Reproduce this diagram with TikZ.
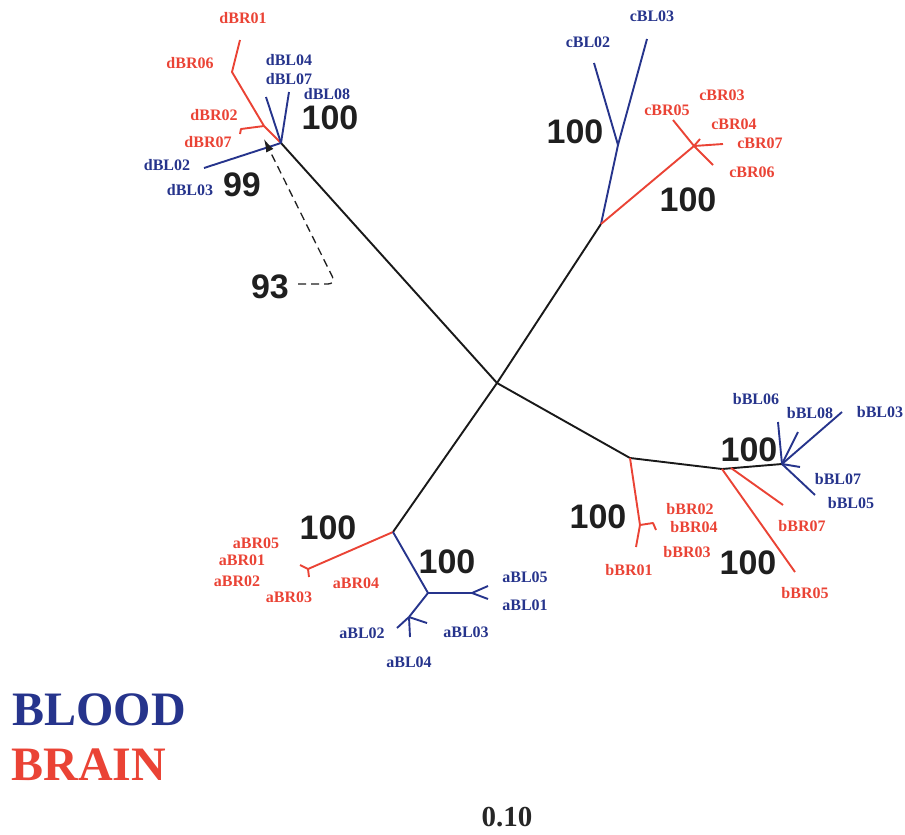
\documentclass[tikz,border=0pt]{standalone}
\usepackage{fontspec}
\setmainfont{Liberation Serif}
\newfontfamily\bootfont{Liberation Sans}
\usetikzlibrary{arrows.meta}
\definecolor{brainred}{RGB}{234,67,53}
\definecolor{bloodblue}{RGB}{38,52,140}

\begin{document}
\begin{tikzpicture}[x=1pt, y=-1pt, >=Stealth,
  trunk/.style={draw=black!90, line width=1.9pt, line join=round},
  brain/.style={draw=brainred, line width=1.9pt, line join=round},
  blood/.style={draw=bloodblue, line width=1.9pt, line join=round},
  brl/.style={text=brainred, font=\fontsize{16}{16}\selectfont\bfseries, inner sep=0pt},
  bll/.style={text=bloodblue, font=\fontsize{16}{16}\selectfont\bfseries, inner sep=0pt},
  boot/.style={text=black!88, font=\bootfont\fontsize{34}{34}\selectfont\bfseries, inner sep=0pt}]
\useasboundingbox (0,0) rectangle (905,835);

% internal points of the tree
\coordinate (root) at (497,383);
\coordinate (dn) at (281,143);
\coordinate (dj) at (264,126);
\coordinate (dk) at (232,72);
\coordinate (cn) at (601,224);
\coordinate (cv) at (618,145);
\coordinate (cr) at (694,146);
\coordinate (bk1) at (630,458);
\coordinate (bk2) at (722,469);
\coordinate (bk3) at (731,468);
\coordinate (bn) at (782,464);
\coordinate (bj) at (640,525);
\coordinate (an) at (393,532);
\coordinate (ar) at (308,569);
\coordinate (ab) at (428,593);
\coordinate (af) at (472,593);
\coordinate (ac) at (409,617);

% tips
\coordinate (dr1) at (240,40);
\coordinate (dr2) at (241,129);
\coordinate (dr7) at (240,134);
\coordinate (dl4) at (266,97);
\coordinate (dl7) at (289,92);
\coordinate (dl2) at (204,168);
\coordinate (cl2) at (594,63);
\coordinate (cl3) at (647,39);
\coordinate (cr5) at (673,120);
\coordinate (cr3) at (700,139);
\coordinate (cr7) at (723,144);
\coordinate (cr6) at (713,165);
\coordinate (br1) at (636,547);
\coordinate (br2) at (653,523);
\coordinate (br4) at (656,530);
\coordinate (br7) at (783,505);
\coordinate (br5) at (795,572);
\coordinate (bl6) at (778,422);
\coordinate (bl8) at (798,432);
\coordinate (bl3) at (842,412);
\coordinate (bl7) at (800,467);
\coordinate (bl5) at (815,495);
\coordinate (ar1) at (300,565);
\coordinate (ar2) at (309,577);
\coordinate (al5) at (488,586);
\coordinate (al1) at (488,599);
\coordinate (al2) at (397,628);
\coordinate (al4) at (410,637);
\coordinate (al3) at (427,623);

% backbone
\draw[trunk] (root) -- (dn);
\draw[trunk] (root) -- (cn);
\draw[trunk] (root) -- (bk1) -- (bk2) -- (bn);
\draw[trunk] (root) -- (an);

% d group
\draw[brain] (dn) -- (dj) -- (dk) -- (dr1);
\draw[brain] (dj) -- (dr2) -- (dr7);
\draw[blood] (dn) -- (dl4);
\draw[blood] (dn) -- (dl7);
\draw[blood] (dn) -- (dl2);

% c group
\draw[blood] (cn) -- (cv) -- (cl3);
\draw[blood] (cv) -- (cl2);
\draw[brain] (cn) -- (cr);
\draw[brain] (cr) -- (cr5);
\draw[brain] (cr) -- (cr3);
\draw[brain] (cr) -- (cr7);
\draw[brain] (cr) -- (cr6);

% b group
\draw[brain] (bk1) -- (bj) -- (br1);
\draw[brain] (bj) -- (br2) -- (br4);
\draw[brain] (bk3) -- (br7);
\draw[brain] (bk2) -- (br5);
\draw[blood] (bn) -- (bl6);
\draw[blood] (bn) -- (bl8);
\draw[blood] (bn) -- (bl3);
\draw[blood] (bn) -- (bl7);
\draw[blood] (bn) -- (bl5);

% a group
\draw[brain] (an) -- (ar);
\draw[brain] (ar) -- (ar1);
\draw[brain] (ar) -- (ar2);
\draw[blood] (an) -- (ab) -- (af);
\draw[blood] (af) -- (al5);
\draw[blood] (af) -- (al1);
\draw[blood] (ab) -- (ac);
\draw[blood] (ac) -- (al2);
\draw[blood] (ac) -- (al4);
\draw[blood] (ac) -- (al3);

% isolate labels
\node[brl] (dBR01) at (243,18) {dBR01};
\node[brl] (dBR06) at (190,63) {dBR06};
\node[brl] (dBR02) at (214,115) {dBR02};
\node[brl] (dBR07) at (208,142) {dBR07};
\node[bll] (dBL04) at (289,60) {dBL04};
\node[bll] (dBL07) at (289,79) {dBL07};
\node[bll] (dBL08) at (327,94) {dBL08};
\node[bll] (dBL02) at (167,165) {dBL02};
\node[bll] (dBL03) at (190,190) {dBL03};

\node[bll] (cBL02) at (588,42) {cBL02};
\node[bll] (cBL03) at (652,16) {cBL03};
\node[brl] (cBR05) at (667,110) {cBR05};
\node[brl] (cBR03) at (722,95) {cBR03};
\node[brl] (cBR04) at (734,124) {cBR04};
\node[brl] (cBR07) at (760,143) {cBR07};
\node[brl] (cBR06) at (752,172) {cBR06};

\node[bll] (bBL06) at (756,399) {bBL06};
\node[bll] (bBL08) at (810,413) {bBL08};
\node[bll] (bBL03) at (880,412) {bBL03};
\node[bll] (bBL07) at (838,479) {bBL07};
\node[bll] (bBL05) at (851,503) {bBL05};
\node[brl] (bBR02) at (690,509) {bBR02};
\node[brl] (bBR04) at (694,527) {bBR04};
\node[brl] (bBR03) at (687,552) {bBR03};
\node[brl] (bBR01) at (629,570) {bBR01};
\node[brl] (bBR07) at (802,526) {bBR07};
\node[brl] (bBR05) at (805,593) {bBR05};

\node[brl] (aBR05) at (256,543) {aBR05};
\node[brl] (aBR01) at (242,560) {aBR01};
\node[brl] (aBR02) at (237,581) {aBR02};
\node[brl] (aBR03) at (289,597) {aBR03};
\node[brl] (aBR04) at (356,583) {aBR04};
\node[bll] (aBL05) at (525,577) {aBL05};
\node[bll] (aBL01) at (525,605) {aBL01};
\node[bll] (aBL02) at (362,633) {aBL02};
\node[bll] (aBL03) at (466,632) {aBL03};
\node[bll] (aBL04) at (409,662) {aBL04};

% bootstrap values
\node[boot] (d100) at (330,118) {100};
\node[boot] (d99) at (242,185) {99};
\node[boot] (d93) at (270,287) {93};
\node[boot] (c100a) at (575,132) {100};
\node[boot] (c100b) at (688,200) {100};
\node[boot] (b100a) at (749,450) {100};
\node[boot] (b100b) at (598,517) {100};
\node[boot] (b100c) at (748,563) {100};
\node[boot] (a100a) at (328,528) {100};
\node[boot] (a100b) at (447,562) {100};

% pointer from 93
\coordinate (dstart) at (298,284);
\coordinate (dcorner) at (336,284);
\coordinate (dtip) at (264,139);
\draw[black!88, line width=1.3pt, dash pattern=on 8pt off 5pt, rounded corners=8pt,
  -{Latex[length=13pt,width=8pt]}] (dstart) -- (dcorner) -- (dtip);

% legend and scale
\node[text=bloodblue, font=\fontsize{48}{48}\selectfont\bfseries, inner sep=0pt] (blood) at (99,710) {BLOOD};
\node[text=brainred, font=\fontsize{48}{48}\selectfont\bfseries, inner sep=0pt] (brain) at (89,765) {BRAIN};
\node[text=black!85, font=\fontsize{29}{29}\selectfont\bfseries, inner sep=0pt] (scale) at (507,817) {0.10};
\end{tikzpicture}
\end{document}
